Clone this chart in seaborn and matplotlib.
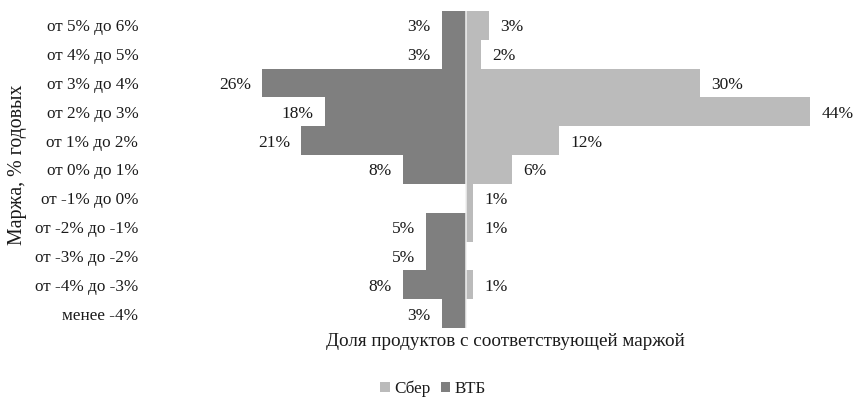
import matplotlib
matplotlib.use("Agg")
import matplotlib.pyplot as plt
from matplotlib.patches import Patch
import seaborn as sns

categories = ["от 5% до 6%", "от 4% до 5%", "от 3% до 4%", "от 2% до 3%",
              "от 1% до 2%", "от 0% до 1%", "от -1% до 0%", "от -2% до -1%",
              "от -3% до -2%", "от -4% до -3%", "менее -4%"]
sber = [3, 2, 30, 44, 12, 6, 1, 1, 0, 1, 0]
vtb = [3, 3, 26, 18, 21, 8, 0, 5, 5, 8, 3]
series_names = ["Сбер", "ВТБ"]

SBER_COLOR = "#bbbbbb"
VTB_COLOR = "#7f7f7f"
TEXT = "#1a1a1a"

sns.set_theme(style="white")
plt.rcParams["font.family"] = ["Liberation Serif", "DejaVu Serif"]
plt.rcParams["text.color"] = TEXT

W, H = 854, 400
fig = plt.figure(figsize=(W / 100, H / 100), dpi=100)
left, right, top, bottom = 148, 840, 11, 328
ax = fig.add_axes([left / W, 1 - bottom / H, (right - left) / W, (bottom - top) / H])

sns.barplot(x=sber, y=categories, orient="h", color=SBER_COLOR, saturation=1,
            width=1.0, edgecolor="none", linewidth=0, ax=ax)
sns.barplot(x=[-v for v in vtb], y=categories, orient="h", color=VTB_COLOR, saturation=1,
            width=1.0, edgecolor="none", linewidth=0, ax=ax)
ax.axvline(0, color="#f0f0f0", lw=1.1, zorder=5)

for cont, vals in zip(ax.containers, [sber, vtb]):
    texts = ax.bar_label(cont, labels=[f"{v}%" if v > 0 else "" for v in vals],
                         padding=8, fontsize=12.5, color=TEXT)
    for t in texts:
        t.set_va("center_baseline")

px_per = 7.83
zero_px = 465.5
ax.set_xlim((left - zero_px) / px_per, (right - zero_px) / px_per)
ax.set_ylim(len(categories) - 0.5, -0.5)

for s in ax.spines.values():
    s.set_visible(False)
ax.set_xticks([])
ax.tick_params(axis="y", length=0, pad=7, labelsize=12.3, labelcolor=TEXT)
for t in ax.get_yticklabels():
    t.set_va("center_baseline")

ax.set_xlabel("Доля продуктов с соответствующей маржой", fontsize=13.8, color=TEXT, va="center")
ax.xaxis.set_label_coords((505 - left) / (right - left), (bottom - 341) / (bottom - top))
ax.set_ylabel("Маржа, % годовых", fontsize=14.3, color=TEXT, va="center")
ax.yaxis.set_label_coords((18 - left) / (right - left), (bottom - 165) / (bottom - top))

handles = [Patch(facecolor=SBER_COLOR, edgecolor="none"), Patch(facecolor=VTB_COLOR, edgecolor="none")]
fig.legend(handles, series_names, loc="center", bbox_to_anchor=(433 / W, 1 - 389 / H),
           ncol=2, frameon=False, fontsize=12.3, handlelength=0.55, handleheight=0.55,
           handletextpad=0.25, columnspacing=0.6, borderpad=0)

fig.savefig("out.png", dpi=100)
